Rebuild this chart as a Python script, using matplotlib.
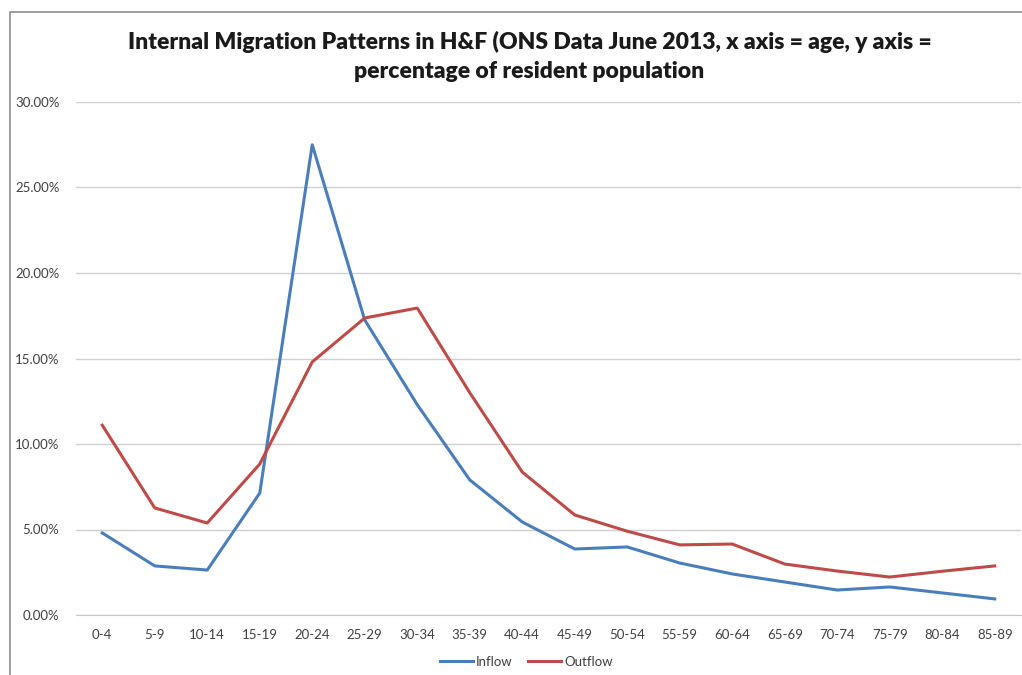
import numpy as np
import matplotlib.pyplot as plt
from matplotlib.patches import Rectangle
from matplotlib.ticker import FuncFormatter

# Age bands on the x axis
ages = ['0-4', '5-9', '10-14', '15-19', '20-24', '25-29', '30-34', '35-39', '40-44',
        '45-49', '50-54', '55-59', '60-64', '65-69', '70-74', '75-79', '80-84', '85-89']

# percentage of resident population
inflow = [4.80, 2.87, 2.63, 7.13, 27.5, 17.25, 12.3, 7.9, 5.44,
          3.86, 3.98, 3.04, 2.40, 1.93, 1.46, 1.64, 1.29, 0.94]
outflow = [11.1, 6.26, 5.38, 8.83, 14.8, 17.37, 17.95, 13.0, 8.36,
           5.85, 4.90, 4.10, 4.15, 2.98, 2.57, 2.22, 2.56, 2.87]

plt.rcParams['font.family'] = ['Lato', 'DejaVu Sans']

fig = plt.figure(figsize=(10.22, 6.75), dpi=100)
# chart frame, cut off at the bottom and right like the screenshot
fig.patches.append(Rectangle((10 / 1022, -0.2), 1.2, 1.2 - 12 / 675, transform=fig.transFigure,
                             fill=False, edgecolor='#8c8c8c', linewidth=1.2))

ax = fig.add_axes([76 / 1022, 1 - 615 / 675, 945 / 1022, (615 - 102) / 675])
x = np.arange(len(ages))
ax.plot(x, inflow, color='#4a7ebb', linewidth=2.2, label='Inflow')
ax.plot(x, outflow, color='#be4b48', linewidth=2.2, label='Outflow')

ax.set_xlim(-0.5, len(ages) - 0.5)
ax.set_ylim(0, 30)
ax.set_yticks(np.arange(0, 31, 5))
ax.yaxis.set_major_formatter(FuncFormatter(lambda v, p: f'{v:.2f}%'))
ax.set_xticks(x)
ax.set_xticklabels(ages)
ax.tick_params(length=0, labelsize=9.5, colors='#404040', pad=10)
ax.tick_params(axis='y', pad=12)
ax.grid(axis='y', color='#d0d0d0', linewidth=1)
for s in ['top', 'right', 'left']:
    ax.spines[s].set_visible(False)
ax.spines['bottom'].set_color('#c8c8c8')
ax.set_axisbelow(True)

fig.text(0.518, 1 - 42 / 675, 'Internal Migration Patterns in H&F (ONS Data June 2013, x axis = age, y axis =',
         ha='center', va='center', fontsize=16.5, fontweight='heavy', color='#1a1a1a')
fig.text(0.518, 1 - 72 / 675, 'percentage of resident population',
         ha='center', va='center', fontsize=16.5, fontweight='heavy', color='#1a1a1a')

fig.legend(loc='center', bbox_to_anchor=(0.515, 1 - 662 / 675), ncol=2, frameon=False,
           fontsize=9.5, handlelength=2.5, handletextpad=0.2, columnspacing=1.2,
           labelcolor='#404040')

fig.savefig('out.png', dpi=100)
